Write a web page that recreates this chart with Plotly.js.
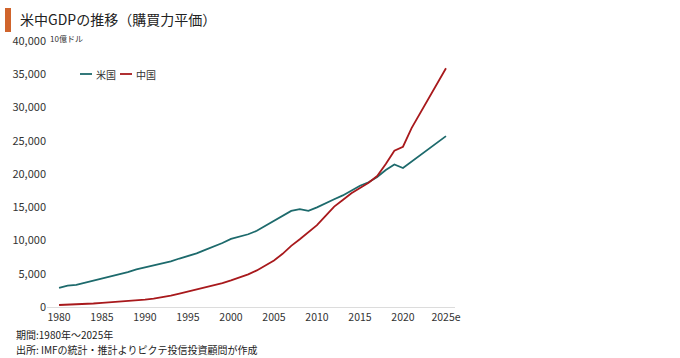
<!DOCTYPE html>
<html>
<head>
<meta charset="utf-8">
<script src="https://cdn.plot.ly/plotly-3.0.1.min.js"></script>
<style>html,body{margin:0;padding:0;background:#fff;}#chart{width:680px;height:358px;}</style>
</head>
<body>
<div id="chart"></div>
<script>
const years = [1980,1981,1982,1983,1984,1985,1986,1987,1988,1989,1990,1991,1992,1993,1994,1995,1996,1997,1998,1999,2000,2001,2002,2003,2004,2005,2006,2007,2008,2009,2010,2011,2012,2013,2014,2015,2016,2017,2018,2019,2020,2021,2022,2023,2024,2025];
const usGDP = [2860,3200,3340,3640,4040,4350,4590,4870,5250,5660,5960,6160,6520,6860,7290,7640,8070,8580,9060,9630,10250,10580,10940,11460,12210,13040,13810,14450,14710,14450,14990,15540,16200,16780,17530,18240,18750,19540,20610,21430,20900,21860,22820,23780,24740,25700];
const chinaGDP = [300,340,390,450,530,620,700,790,890,980,1100,1250,1450,1700,2000,2300,2650,2950,3250,3600,4000,4400,4900,5500,6200,7000,8000,9200,10200,11200,12300,13700,15100,16100,17100,17900,18700,19700,21500,23500,24100,26900,29200,31400,33700,35900];
const tickYears = [1980,1985,1990,1995,2000,2005,2010,2015,2020,2025];
const tickLabels = ['1980','1985','1990','1995','2000','2005','2010','2015','2020','2025e'];
const seriesNames = ['米国','中国'];
const seriesColors = ['#1d6a6c','#a8191c'];

const FONT = '"Noto Sans CJK JP", "Noto Sans", sans-serif';
const L = 47, R = 455, T = 41, B = 307;
const pw = R - L, ph = B - T;
const px = x => (x - L) / pw;
const py = y => (B - y) / ph;

const traces = [
  {x: years, y: usGDP, name: seriesNames[0], type: 'scatter', mode: 'lines', line: {color: seriesColors[0], width: 1.8}},
  {x: years, y: chinaGDP, name: seriesNames[1], type: 'scatter', mode: 'lines', line: {color: seriesColors[1], width: 1.8}}
];

// compact legend with short line samples, as in the reference
const legendPos = [{x0: 80, x1: 92, tx: 93.5}, {x0: 120, x1: 132, tx: 133.5}];
const legendY = 74;
const legendShapes = legendPos.map((p, i) => ({type: 'line', xref: 'paper', yref: 'paper', x0: px(p.x0), x1: px(p.x1), y0: py(legendY), y1: py(legendY), line: {color: seriesColors[i], width: 1.8}}));
const legendTexts = legendPos.map((p, i) => ({text: seriesNames[i], xref: 'paper', yref: 'paper', x: px(p.tx), y: py(legendY), xanchor: 'left', yanchor: 'middle', showarrow: false, font: {size: 10, color: '#333'}}));

const layout = {
  width: 680, height: 358,
  margin: {l: L, r: 680 - R, t: T, b: 358 - B},
  paper_bgcolor: '#fff', plot_bgcolor: '#fff',
  font: {family: FONT, color: '#333', size: 11},
  showlegend: false,
  title: {text: '米中GDPの推移（購買力平価）', x: 20/680, xref: 'container', xanchor: 'left', y: 1 - 20/358, yref: 'container', yanchor: 'middle', font: {family: FONT, size: 14, color: '#222'}},
  xaxis: {range: [1978.6, 2026.05], tickvals: tickYears, ticktext: tickLabels, showgrid: false, zeroline: false, showline: true, linecolor: '#dcdcdc', linewidth: 1, ticks: '', tickfont: {size: 10.5, color: '#333'}, fixedrange: true, automargin: false},
  yaxis: {range: [0, 40000], dtick: 5000, tickformat: ',d', showgrid: false, zeroline: false, showline: false, ticks: '', tickfont: {size: 11, color: '#333'}, fixedrange: true, automargin: false},
  shapes: [
    {type: 'rect', xref: 'paper', yref: 'paper', x0: px(5), x1: px(11), y0: py(32), y1: py(8), fillcolor: '#d0642c', line: {width: 0}}
  ].concat(legendShapes),
  annotations: [
    {text: '10億ドル', xref: 'paper', yref: 'paper', x: px(49), y: py(39), xanchor: 'left', yanchor: 'middle', showarrow: false, borderpad: 0, font: {size: 8, color: '#333'}},
    {text: '期間:1980年～2025年', xref: 'paper', yref: 'paper', x: px(14), y: py(334), xanchor: 'left', yanchor: 'middle', showarrow: false, font: {size: 10, color: '#222'}},
    {text: '出所: IMFの統計・推計よりピクテ投信投資顧問が作成', xref: 'paper', yref: 'paper', x: px(14), y: py(349), xanchor: 'left', yanchor: 'middle', showarrow: false, font: {size: 10, color: '#222'}}
  ].concat(legendTexts)
};

Plotly.newPlot('chart', traces, layout, {displayModeBar: false, staticPlot: true});
</script>
</body>
</html>
